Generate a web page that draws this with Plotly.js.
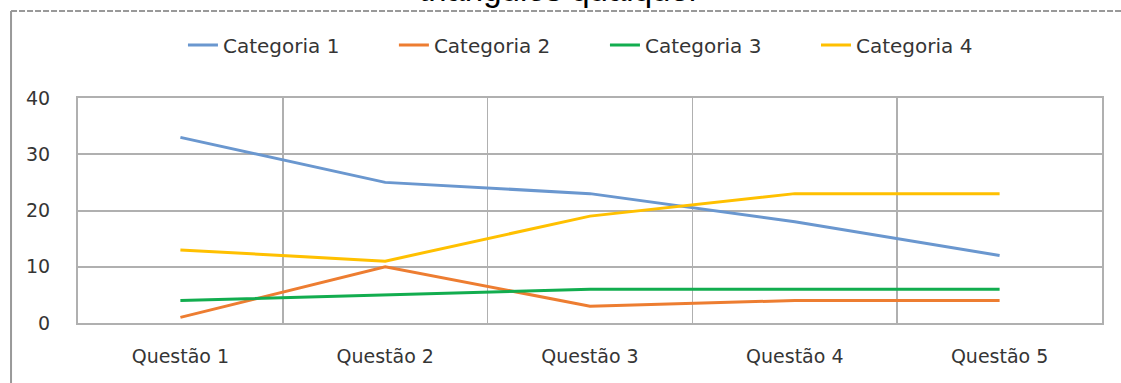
<!DOCTYPE html>
<html>
<head>
<meta charset="utf-8">
<script src="https://cdn.plot.ly/plotly-3.0.1.min.js"></script>
<style>
  html, body { margin: 0; padding: 0; background: #ffffff; }
  #chart { width: 1121px; height: 383px; }
</style>
</head>
<body>
<div id="chart"></div>
<script>
const categories = ["Questão 1", "Questão 2", "Questão 3", "Questão 4", "Questão 5"];
const seriesNames = ["Categoria 1", "Categoria 2", "Categoria 3", "Categoria 4"];
const categoria1 = [33, 25, 23, 18, 12];
const categoria2 = [1, 10, 3, 4, 4];
const categoria3 = [4, 5, 6, 6, 6];
const categoria4 = [13, 11, 19, 23, 23];
const yTicks = [0, 10, 20, 30, 40];
const headerText = "triângulos qualquer";

const colors = ["#6a97cf", "#ed7d31", "#12ad4f", "#ffc000"];
const values = [categoria1, categoria2, categoria3, categoria4];
const legendIds = ["legend", "legend2", "legend3", "legend4"];
const legendX = [0.1025, 0.3085, 0.5146, 0.7207];

const traces = values.map((v, i) => ({
  type: "scatter",
  mode: "lines",
  name: seriesNames[i],
  legend: legendIds[i],
  x: categories,
  y: v,
  line: { color: colors[i], width: 3 },
  hoverinfo: "skip"
}));

const gridColor = "#b0b0b0";
const textFont = { family: "DejaVu Sans, sans-serif", size: 19, color: "#353535" };

const layout = {
  width: 1121,
  height: 383,
  margin: { l: 78, r: 19, t: 98, b: 60, pad: 0, autoexpand: false },
  paper_bgcolor: "#ffffff",
  plot_bgcolor: "#ffffff",
  showlegend: true,
  xaxis: {
    type: "category",
    range: [-0.5, 4.5],
    tickson: "boundaries",
    showgrid: true,
    gridcolor: gridColor,
    gridwidth: 1.5,
    showline: true,
    linecolor: gridColor,
    linewidth: 2,
    mirror: true,
    ticks: "",
    tickfont: textFont,
    ticklabelstandoff: 15,
    fixedrange: true,
    zeroline: false
  },
  yaxis: {
    range: [0, 40],
    tickvals: yTicks,
    ticktext: yTicks.map(String),
    showgrid: true,
    gridcolor: gridColor,
    gridwidth: 2,
    showline: true,
    linecolor: gridColor,
    linewidth: 2,
    mirror: true,
    zeroline: false,
    ticks: "",
    tickfont: textFont,
    ticklabelstandoff: 22,
    fixedrange: true
  },
  shapes: [
    {
      type: "line", xref: "paper", yref: "paper",
      x0: -0.0654, x1: 1.02, y0: 1.387, y1: 1.387,
      line: { color: "#999999", width: 2, dash: "6px,2px" }
    },
    {
      type: "line", xref: "paper", yref: "paper",
      x0: -0.0654, x1: -0.0654, y0: 1.387, y1: -0.3,
      line: { color: "#999999", width: 2 }
    }
  ],
  annotations: [
    {
      text: headerText,
      xref: "paper", yref: "paper",
      x: 0.47, y: 1.393,
      xanchor: "center", yanchor: "bottom",
      showarrow: false,
      font: { family: "Liberation Sans, Arial, sans-serif", size: 33, color: "#000000" }
    }
  ]
};

legendIds.forEach((id, i) => {
  layout[id] = {
    orientation: "h",
    x: legendX[i],
    xanchor: "left",
    y: 1.2356,
    yanchor: "middle",
    font: { family: "DejaVu Sans, sans-serif", size: 20, color: "#353535" },
    itemwidth: 30,
    bgcolor: "rgba(0,0,0,0)",
    borderwidth: 0
  };
});

Plotly.newPlot("chart", traces, layout, { displayModeBar: false, staticPlot: true });
</script>
</body>
</html>
